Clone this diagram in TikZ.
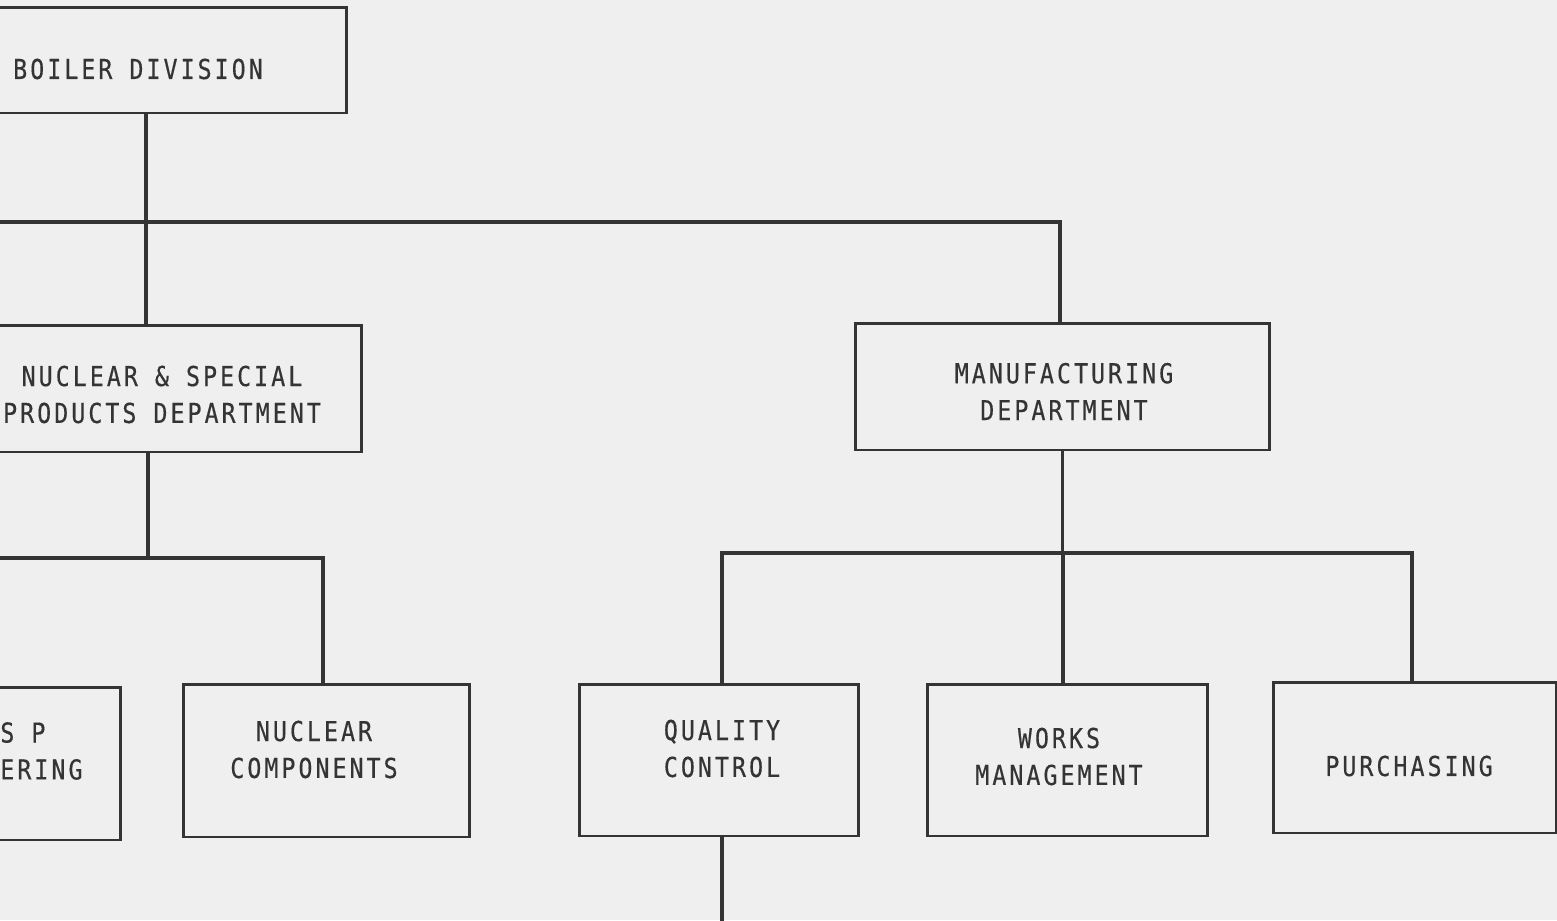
\documentclass[tikz,border=0pt]{standalone}
\usepackage{fontspec}
\newfontfamily\chartfont[FakeStretch=0.85,LetterSpace=11,FakeBold=0.4]{DejaVu Sans Mono}
\definecolor{papier}{HTML}{EFEFEF}
\definecolor{encre}{HTML}{343434}

\tikzset{
  service/.style={draw=encre, line width=1.7pt, inner sep=0pt},
  lien/.style={draw=encre, line width=2.1pt},
  texte/.style={text=encre, align=center, inner sep=0pt,
    font=\chartfont\fontsize{15.6}{21}\selectfont}
}

\begin{document}
\begin{tikzpicture}[x=0.02cm,y=-0.02cm]
                  % Cadre et fond
                  \useasboundingbox (0,0) rectangle (1557,920);
                  \fill[papier] (0,0) rectangle (1557,920);
                  \clip (0,0) rectangle (1557,920);

                  % Cases
                  \node[service, minimum width=8.42cm, minimum height=2.12cm] (boiler) at (136.5,60) {};
                  \node[service, minimum width=8.08cm, minimum height=2.54cm] (nsp) at (160,388.5) {};
                  \node[service, minimum width=8.30cm, minimum height=2.54cm] (mfg) at (1062.5,386.5) {};
                  \node[service, minimum width=5.62cm, minimum height=3.06cm] (eng) at (-19.5,763.5) {};
                  \node[service, minimum width=5.74cm, minimum height=3.06cm] (comp) at (326.5,760.5) {};
                  \node[service, minimum width=5.60cm, minimum height=3.04cm] (qc) at (719,760) {};
                  \node[service, minimum width=5.62cm, minimum height=3.04cm] (works) at (1067.5,760) {};
                  \node[service, minimum width=5.66cm, minimum height=3.02cm] (pur) at (1414.5,757.5) {};

                  % Textes
                  \node[texte] (boilertxt) at (138,69) {BOILER DIVISION};
                  \node[texte] (nsptxt) at (162,394.5) {NUCLEAR \& SPECIAL\\PRODUCTS DEPARTMENT};
                  \node[texte] (mfgtxt) at (1064,391.5) {MANUFACTURING\\DEPARTMENT};
                  \node[texte, align=left, anchor=west] (engtxt) at (0,751) {S P\\ERING};
                  \node[texte] (comptxt) at (314,749.5) {NUCLEAR\\COMPONENTS};
                  \node[texte] (qctxt) at (722,748.5) {QUALITY\\CONTROL};
                  \node[texte] (workstxt) at (1059,756.5) {WORKS\\MANAGEMENT};
                  \node[texte] (purtxt) at (1409,766) {PURCHASING};

                  % Points des barres
                  \coordinate (bus1) at (-10,222);
                  \coordinate (bus2) at (-10,558);
                  \coordinate (bus3) at (722,553);
                  \coordinate (bas) at (722,930);

                  % Liaisons
                  \draw[lien] (boiler.south -| 146,0) -- (nsp.north -| 146,0);
                  \draw[lien] (bus1) -- (bus1 -| 1060,0) -- (mfg.north -| 1060,0);
                  \draw[lien] (nsp.south -| 148,0) -- (bus2 -| 148,0);
                  \draw[lien] (bus2) -- (bus2 -| 323,0) -- (comp.north -| 323,0);
                  \draw[lien] (mfg.south) -- (bus3 -| mfg);
                  \draw[lien] (qc.north -| bus3) -- (bus3) -- (bus3 -| 1412,0) -- (pur.north -| 1412,0);
                  \draw[lien] (bus3 -| 1063,0) -- (works.north -| 1063,0);
                  \draw[lien] (qc.south -| bas) -- (bas);
              \end{tikzpicture}
\end{document}
